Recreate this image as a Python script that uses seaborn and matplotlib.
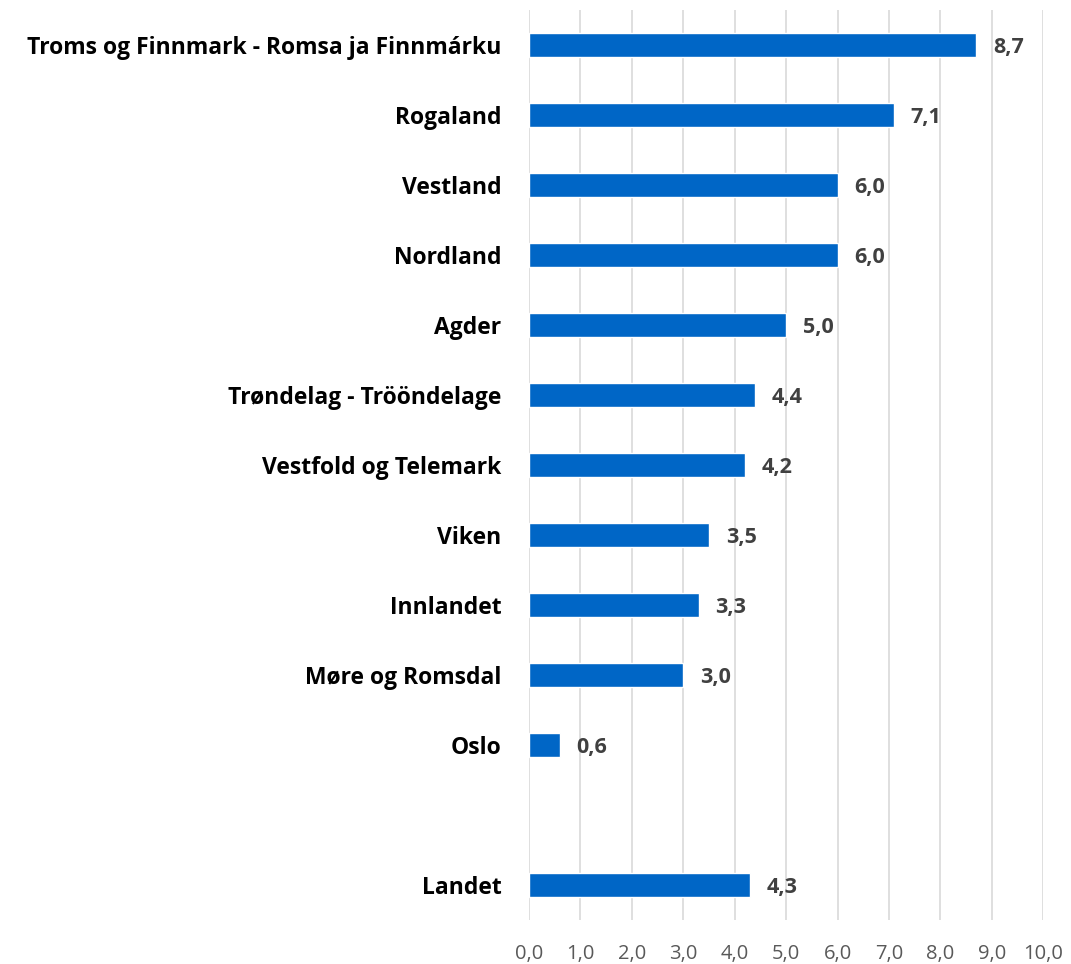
import pandas as pd
import seaborn as sns
import matplotlib.pyplot as plt

# data
regions = [
    "Troms og Finnmark - Romsa ja Finnmárku",
    "Rogaland",
    "Vestland",
    "Nordland",
    "Agder",
    "Trøndelag - Trööndelage",
    "Vestfold og Telemark",
    "Viken",
    "Innlandet",
    "Møre og Romsdal",
    "Oslo",
    " ",
    "Landet",
]
values = [8.7, 7.1, 6.0, 6.0, 5.0, 4.4, 4.2, 3.5, 3.3, 3.0, 0.6, None, 4.3]
xticks = [0, 1, 2, 3, 4, 5, 6, 7, 8, 9, 10]

df = pd.DataFrame({"region": regions, "value": values})

sns.set_style("white")
plt.rcParams["font.family"] = ["Open Sans", "DejaVu Sans"]

fig = plt.figure(figsize=(10.71, 9.64), dpi=100)
ax = fig.add_axes([0.494, 0.0456, 0.48, 0.9444])

sns.barplot(data=df.dropna(), x="value", y="region", order=regions,
            color="#0066C6", saturation=1, width=0.34, ax=ax)

for i, v in enumerate(values):
    if v is None:
        continue
    ax.annotate(f"{v:.1f}".replace(".", ","), xy=(v, i), xytext=(12, 0),
                textcoords="offset points", va="center_baseline", ha="left",
                fontsize=15.5, fontweight="bold", color="#404040")

ax.set_xlim(0, 10)
ax.set_ylim(12.5, -0.5)
ax.set_xticks(xticks)
ax.set_xticklabels([f"{t:.1f}".replace(".", ",") for t in xticks],
                   fontsize=14.5, color="#595959")
ax.tick_params(axis="x", length=0, pad=17)
ax.tick_params(axis="y", length=0, pad=20)
for lbl in ax.get_yticklabels():
    lbl.set_fontsize(16.5)
    lbl.set_fontweight("bold")
    lbl.set_color("black")
ax.grid(axis="x", color="#D9D9D9", linewidth=1.2)
ax.set_axisbelow(True)
ax.set_xlabel("")
ax.set_ylabel("")
for s in ax.spines.values():
    s.set_visible(False)

plt.savefig("out.png", dpi=100)
